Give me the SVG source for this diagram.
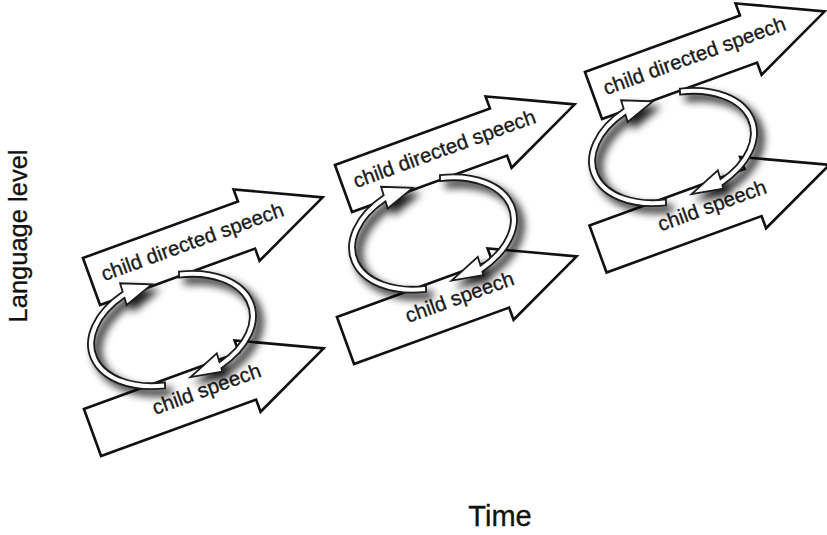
<svg xmlns="http://www.w3.org/2000/svg" xmlns:xlink="http://www.w3.org/1999/xlink" width="827" height="535" viewBox="0 0 827 535">
<style>
.arw{fill:#fff;stroke:#111;stroke-width:2.6;stroke-linejoin:miter}
.lbl{font-family:"Liberation Sans",Arial,sans-serif;font-size:20.5px;fill:#1a1a1a;stroke:#1a1a1a;stroke-width:0.35}
.axis{font-family:"Liberation Sans",Arial,sans-serif;fill:#111;stroke:#111;stroke-width:0.3}
.band{fill:#fff;stroke:#1a1a1a;stroke-width:1.8;stroke-linejoin:miter}
</style>
<defs>
<path id="ar" d="M0,-25 L165,-25 L165,-38 L246,0 L165,38 L165,25 L0,25 Z"/>
<path id="arcA" d="M-23.70,53.83 A86,56 0 0,1 -36,-50.9 L-36,-59.9 L-6,-49.6 L-36,-37.1 L-36,-44.65 A80,50 0 0,0 -22.05,48.06 Z"/>
<path id="arcB" d="M23.70,-53.83 A86,56 0 0,1 36,50.9 L36,54.5 L4,50.5 L36,35.5 L36,44.65 A80,50 0 0,0 22.05,-48.06 Z"/>
<filter id="sh" x="-30%" y="-30%" width="160%" height="160%">
<feGaussianBlur in="SourceAlpha" stdDeviation="4"/>
<feOffset dx="6" dy="6"/>
<feComponentTransfer><feFuncA type="linear" slope="0.9"/></feComponentTransfer>
<feMerge><feMergeNode/><feMergeNode in="SourceGraphic"/></feMerge>
</filter>
</defs>
<rect width="827" height="535" fill="#fff"/>

<g id="cds1" transform="translate(91.5,281.5) rotate(-20)">
<use href="#ar" class="arw"/>
<text x="12" y="4" class="lbl">child directed speech</text>
</g>
<g id="cs1" transform="translate(92.5,432.5) rotate(-20)">
<use href="#ar" class="arw"/>
<text x="65" y="5" class="lbl">child speech</text>
</g>
<g id="cds2" transform="translate(343.5,188.5) rotate(-20)">
<use href="#ar" class="arw"/>
<text x="12" y="4" class="lbl">child directed speech</text>
</g>
<g id="cs2" transform="translate(345.5,340.5) rotate(-20)">
<use href="#ar" class="arw"/>
<text x="65" y="5" class="lbl">child speech</text>
</g>
<g id="cds3" transform="translate(593.5,95.5) rotate(-20)">
<use href="#ar" class="arw"/>
<text x="12" y="4" class="lbl">child directed speech</text>
</g>
<g id="cs3" transform="translate(598,249) rotate(-20)">
<use href="#ar" class="arw"/>
<text x="65" y="5" class="lbl">child speech</text>
</g>

<g id="connectors">
<g id="loop1" filter="url(#sh)">
<g transform="translate(172,330) rotate(-17)">
<use href="#arcA" class="band"/>
<use href="#arcB" class="band"/>
</g>
</g>
<g id="loop2" filter="url(#sh)">
<g transform="translate(433,233.5) rotate(-17)">
<use href="#arcA" class="band"/>
<use href="#arcB" class="band"/>
</g>
</g>
<g id="loop3" filter="url(#sh)">
<g transform="translate(673,147) rotate(-17)">
<use href="#arcA" class="band"/>
<use href="#arcB" class="band"/>
</g>
</g>
</g>

<g id="ylabel">
<text class="axis" font-size="25.5" text-anchor="middle" transform="translate(26.5,236) rotate(-90)">Language level</text>
</g>
<g id="xlabel">
<text class="axis" font-size="29" x="500" y="526" text-anchor="middle">Time</text>
</g>
</svg>
